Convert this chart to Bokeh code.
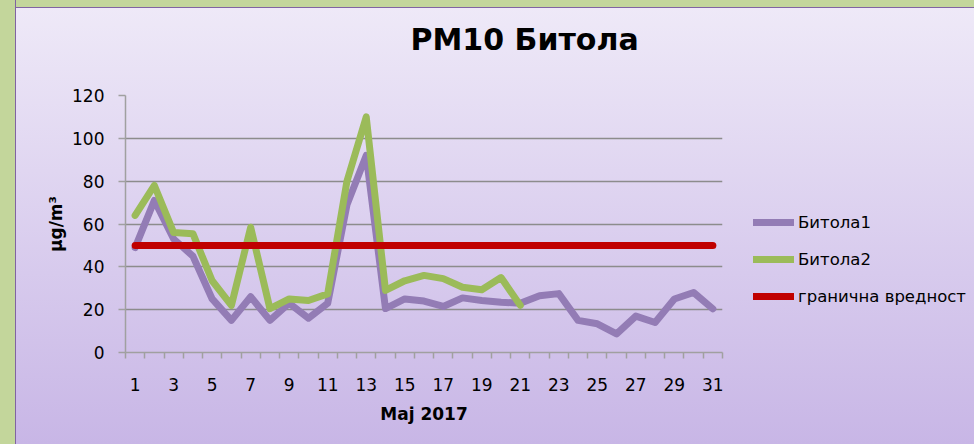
from bokeh.plotting import figure
from bokeh.layouts import row
from bokeh.models import FixedTicker, Legend, LegendItem, Range1d, Title, GlobalInlineStyleSheet
from bokeh.embed import file_html
from bokeh.resources import INLINE

# ---- data ----
days = list(range(1, 32))
bitola1 = [49, 71, 53, 45, 25, 15, 26, 15, 23, 16, 23, 69, 92, 20.5, 25, 24,
           21.5, 25.5, 24.3, 23.5, 23, 26.5, 27.5, 15, 13.4, 8.7, 17, 14, 25, 28, 20.4]
bitola2 = [64, 78, 56, 55.5, 33.5, 22, 58.5, 20.5, 25, 24.3, 27.4, 80, 110, 29,
           33.5, 36, 34.5, 30.5, 29.3, 35, 22]
days2 = days[:len(bitola2)]
limit_value = 50
limit = [limit_value] * len(days)
y_ticks = [0, 20, 40, 60, 80, 100, 120]
x_tick_days = list(range(1, 32, 2))
series_names = ["Битола1", "Битола2", "гранична вредност"]
title_text = "PM10 Битола"
x_title = "Мај 2017"
y_title = "μg/m³"

FONT = "DejaVu Sans"
C_PURPLE = "#937CB5"
C_GREEN = "#9BBB59"
C_RED = "#C00000"
C_GRID = "#8C8C8C"
C_AXIS = "#A0A0A0"

p = figure(width=736, height=444,
           x_range=Range1d(0.5, 31.5), y_range=Range1d(0, 120),
           output_backend="svg", toolbar_location=None,
           min_border_left=125, min_border_right=14,
           min_border_top=95, min_border_bottom=92,
           background_fill_color=None, border_fill_color=None,
           outline_line_color=None)

page_css = (
    "html{min-height:100%;background:"
    "linear-gradient(to right, #C3D69B 15px, #8064A2 15px, #8064A2 16px, transparent 16px),"
    "linear-gradient(to bottom, #C3D69B 7px, #8064A2 7px, #8064A2 8px, transparent 8px),"
    "linear-gradient(to bottom, #EFEAF8, #C8B6E6);}"
    "body{background:transparent;}"
)
p.stylesheets = [GlobalInlineStyleSheet(css=page_css)]

# title
p.title.text = title_text
p.title.align = "left"
p.title.vertical_align = "top"
p.title.offset = 285
p.title.standoff = 40
p.title.text_font = FONT
p.title.text_font_size = "30px"
p.title.text_font_style = "bold"
p.title.text_color = "#000000"

# blank spacer between the title and the plot area
p.add_layout(Title(text=" ", text_font_size="1px", standoff=14), "above")

# lines
r1 = p.line(days, bitola1, line_color=C_PURPLE, line_width=7, line_cap="round", line_join="round")
r2 = p.line(days2, bitola2, line_color=C_GREEN, line_width=7, line_cap="round", line_join="round")
r3 = p.line(days, limit, line_color=C_RED, line_width=7, line_cap="round", line_join="round")

# x axis
xa = p.xaxis[0]
xa.ticker = FixedTicker(ticks=x_tick_days, minor_ticks=[d - 0.5 for d in days] + [31.5])
xa.major_tick_out = 0
xa.major_tick_in = 0
xa.minor_tick_out = 6
xa.minor_tick_in = 0
xa.minor_tick_line_color = C_AXIS
xa.minor_tick_line_width = 1.5
xa.axis_line_color = C_AXIS
xa.axis_line_width = 1.5
xa.major_label_standoff = 19
xa.major_label_text_font = FONT
xa.major_label_text_font_size = "17px"
xa.major_label_text_color = "#000000"
xa.axis_label = x_title
xa.axis_label_text_font = FONT
xa.axis_label_text_font_size = "17px"
xa.axis_label_text_font_style = "bold"
xa.axis_label_text_color = "#000000"
xa.axis_label_standoff = 10

# y axis
ya = p.yaxis[0]
ya.ticker = FixedTicker(ticks=y_ticks, minor_ticks=[])
ya.major_tick_out = 7
ya.major_tick_in = 0
ya.major_tick_line_color = C_AXIS
ya.major_tick_line_width = 1.5
ya.axis_line_color = C_AXIS
ya.axis_line_width = 1.5
ya.major_label_standoff = 14
ya.major_label_text_font = FONT
ya.major_label_text_font_size = "17px"
ya.major_label_text_color = "#000000"
ya.axis_label = y_title
ya.axis_label_text_font = FONT
ya.axis_label_text_font_size = "17px"
ya.axis_label_text_font_style = "bold"
ya.axis_label_text_color = "#000000"
ya.axis_label_standoff = 3

p.xgrid.visible = False
p.ygrid.ticker = FixedTicker(ticks=y_ticks)
p.ygrid.grid_line_color = C_GRID
p.ygrid.grid_line_width = 1.5

# legend panel (separate figure to the right of the chart)
p2 = figure(width=238, height=444, x_range=Range1d(0, 1), y_range=Range1d(0, 1),
            output_backend="svg", toolbar_location=None,
            min_border=0, min_border_left=0, min_border_right=0,
            min_border_top=0, min_border_bottom=0,
            background_fill_color=None, border_fill_color=None,
            outline_line_color=None)
p2.axis.visible = False
p2.grid.visible = False
nan = float("nan")
l1 = p2.line([nan], [nan], line_color=C_PURPLE, line_width=7, line_cap="round")
l2 = p2.line([nan], [nan], line_color=C_GREEN, line_width=7, line_cap="round")
l3 = p2.line([nan], [nan], line_color=C_RED, line_width=7, line_cap="round")

legend = Legend(items=[LegendItem(label=series_names[0], renderers=[l1]),
                       LegendItem(label=series_names[1], renderers=[l2]),
                       LegendItem(label=series_names[2], renderers=[l3])],
                location=(17, 46), orientation="vertical",
                padding=0, margin=0, spacing=17,
                glyph_width=41, glyph_height=20, label_height=20,
                label_standoff=4,
                border_line_color=None, background_fill_color=None, background_fill_alpha=0,
                label_text_font=FONT, label_text_font_size="16.5px", label_text_color="#000000")
p2.add_layout(legend)

layout = row(p, p2)
open("out.html", "w").write(file_html(layout, INLINE))
